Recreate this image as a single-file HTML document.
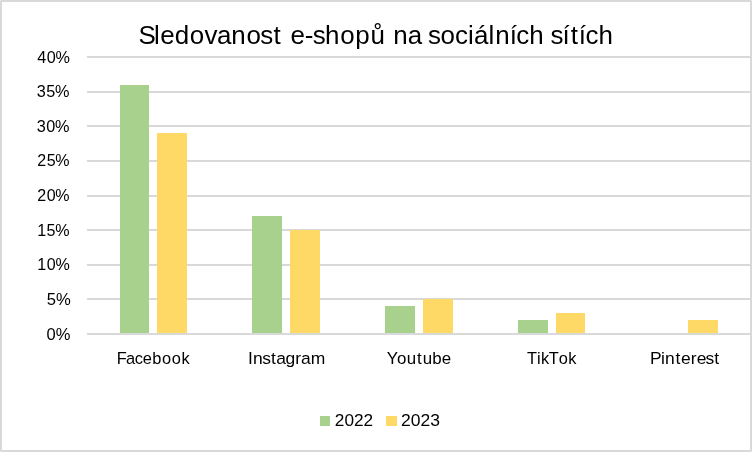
<!DOCTYPE html>
<html><head><meta charset="utf-8"><title>Sledovanost e-shopů na sociálních sítích</title><style>
html,body{margin:0;padding:0;background:#fff;}
svg{display:block;will-change:transform;}
.ax{font-family:"Liberation Sans",sans-serif;font-size:16.8px;fill:#000;}
.tt{font-family:"Liberation Sans",sans-serif;font-size:26px;fill:#000;}
</style></head><body>
<svg width="752" height="452" viewBox="0 0 752 452">
<rect x="87" y="56" width="663" height="2" fill="#D9D9D9"/>
<rect x="87" y="91" width="663" height="2" fill="#D9D9D9"/>
<rect x="87" y="125" width="663" height="2" fill="#D9D9D9"/>
<rect x="87" y="160" width="663" height="2" fill="#D9D9D9"/>
<rect x="87" y="195" width="663" height="2" fill="#D9D9D9"/>
<rect x="87" y="229" width="663" height="2" fill="#D9D9D9"/>
<rect x="87" y="264" width="663" height="2" fill="#D9D9D9"/>
<rect x="87" y="298" width="663" height="2" fill="#D9D9D9"/>
<rect x="120" y="85" width="29" height="248" fill="#A9D18E"/>
<rect x="157" y="133" width="30" height="200" fill="#FFD966"/>
<rect x="252" y="216" width="30" height="117" fill="#A9D18E"/>
<rect x="290" y="230" width="30" height="103" fill="#FFD966"/>
<rect x="385" y="306" width="30" height="27" fill="#A9D18E"/>
<rect x="423" y="299" width="30" height="34" fill="#FFD966"/>
<rect x="518" y="320" width="30" height="13" fill="#A9D18E"/>
<rect x="556" y="313" width="29" height="20" fill="#FFD966"/>
<rect x="688" y="320" width="30" height="13" fill="#FFD966"/>
<rect x="87" y="333" width="663" height="2" fill="#D9D9D9"/>
<rect x="1" y="1" width="750" height="450" fill="none" stroke="#D9D9D9" stroke-width="2"/>
<rect x="0" y="0" width="1" height="1" fill="#EBEBEB"/>
<rect x="751" y="0" width="1" height="1" fill="#EBEBEB"/>
<rect x="0" y="451" width="1" height="1" fill="#EBEBEB"/>
<rect x="751" y="451" width="1" height="1" fill="#EBEBEB"/>
<rect x="320" y="416" width="10" height="10" fill="#A9D18E"/>
<rect x="386" y="416" width="11" height="10" fill="#FFD966"/>
<text class="tt" transform="translate(138.52 43.80) scale(0.9974 1)" x="0.00 15.64 21.70 36.33 51.40 66.13 78.72 93.09 108.15 122.02 135.30 143.70 152.28 166.74 174.61 187.07 202.22 217.37 232.49 247.29 255.28 269.99 284.23 290.12 302.73 317.26 330.35 336.30 350.93 357.55 372.13 378.72 391.76 406.63 413.15 425.07 433.28 441.50 448.10 461.17" y="0">Sledovanost e-shopů na sociálních sítích</text>
<text class="ax" transform="translate(116.78 363.80) scale(0.9782 1)" x="0.00 9.35 18.37 26.62 36.31 46.28 56.27 66.05" y="0">Facebook</text>
<text class="ax" transform="translate(247.98 363.80) scale(1.0409 1)" x="0.00 4.78 13.64 22.15 27.27 35.96 45.34 51.04 60.41" y="0">Instagram</text>
<text class="ax" transform="translate(386.84 363.80) scale(1.0067 1)" x="0.00 10.21 19.83 30.03 35.56 45.17 54.52" y="0">Youtube</text>
<text class="ax" transform="translate(527.05 363.80) scale(0.9750 1)" x="0.00 10.11 14.30 22.36 32.50 42.34" y="0">TikTok</text>
<text class="ax" transform="translate(650.06 363.80) scale(1.0386 1)" x="0.00 10.46 14.47 24.56 29.73 39.23 44.99 53.47 61.89" y="0">Pinterest</text>
<text class="ax" transform="translate(334.84 426.00) scale(1.0255 1)" x="0.00 9.34 18.69 28.03" y="0">2022</text>
<text class="ax" transform="translate(400.95 426.00) scale(1.0448 1)" x="0.00 9.34 18.69 28.03" y="0">2023</text>
<text class="ax" transform="translate(37.17 62.50) scale(0.9663 1)" x="0.00 9.86 18.94" y="0">40%</text>
<text class="ax" transform="translate(36.78 97.12) scale(0.9685 1)" x="0.00 9.86 18.94" y="0">35%</text>
<text class="ax" transform="translate(36.78 131.75) scale(0.9685 1)" x="0.00 9.86 18.94" y="0">30%</text>
<text class="ax" transform="translate(37.26 166.38) scale(0.9543 1)" x="0.00 9.86 18.94" y="0">25%</text>
<text class="ax" transform="translate(37.26 201.00) scale(0.9543 1)" x="0.00 9.86 18.94" y="0">20%</text>
<text class="ax" transform="translate(37.13 235.62) scale(0.9582 1)" x="0.00 9.86 18.94" y="0">15%</text>
<text class="ax" transform="translate(37.27 270.25) scale(0.9564 1)" x="0.00 9.86 18.94" y="0">10%</text>
<text class="ax" transform="translate(46.70 304.88) scale(0.9899 1)" x="0.00 9.34" y="0">5%</text>
<text class="ax" transform="translate(46.61 339.50) scale(0.9839 1)" x="0.00 9.34" y="0">0%</text>
</svg>
</body></html>
